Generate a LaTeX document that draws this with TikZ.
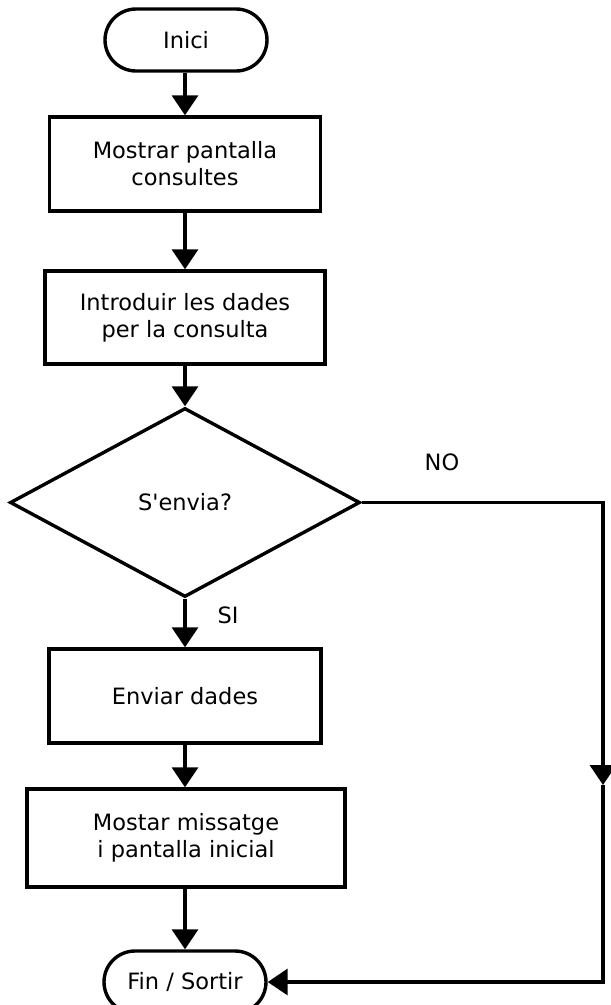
\documentclass[tikz,border=0pt]{standalone}
\usepackage{fontspec}
\setmainfont{DejaVu Sans}
\usetikzlibrary{shapes.geometric,arrows.meta}
\begin{document}
\begin{tikzpicture}[x=1pt,y=-1pt,
  every node/.style={font=\fontsize{22.5}{27}\selectfont},
  terminal/.style={draw,line width=3.4pt,minimum width=162pt,minimum height=62pt,rounded corners=31pt,inner sep=0pt},
  procbox/.style={draw,line width=3.4pt,align=center,inner sep=0pt},
  decision/.style={draw,shape=diamond,line width=3.4pt,minimum width=350pt,minimum height=189pt,inner sep=0pt},
  flow/.style={line width=3.4pt,-{Triangle[length=20pt,width=26pt]}},
  lbl/.style={inner sep=0pt}]
\useasboundingbox (0,0) rectangle (611,1005);
\node[terminal] (ini) at (186,40) {Inici};
\node[procbox,minimum width=271pt,minimum height=94pt] (b1) at (185,164) {Mostrar pantalla\\consultes};
\node[procbox,minimum width=280pt,minimum height=93pt] (b2) at (185,317.5) {Introduir les dades\\per la consulta};
\node[decision] (dia) at (185,502.5) {S\textquotesingle envia?};
\node[procbox,minimum width=272pt,minimum height=94pt] (b3) at (185,696) {Enviar dades};
\node[procbox,minimum width=318pt,minimum height=98pt] (b4) at (186,838) {Mostar missatge\\i pantalla inicial};
\node[terminal] (fin) at (185,982) {Fin / Sortir};
\node[lbl] (no) at (442,462) {NO};
\node[lbl] (si) at (228,615) {SI};
\coordinate (r1) at (603,502.5);
\coordinate (rm) at (603,785);
\coordinate (r2) at (603,982);
\draw[flow] (ini.south -| b1.north) -- (b1.north);
\draw[flow] (b1.south) -- (b2.north);
\draw[flow] (b2.south) -- (dia.north);
\draw[flow] (dia.south) -- (b3.north);
\draw[flow] (b3.south) -- (b4.north -| b3.south);
\draw[flow] (b4.south -| fin.north) -- (fin.north);
\draw[flow] (dia.east) -- (r1) -- (rm);
\draw[flow] (rm) -- (r2) -- (fin.east);
\end{tikzpicture}
\end{document}
